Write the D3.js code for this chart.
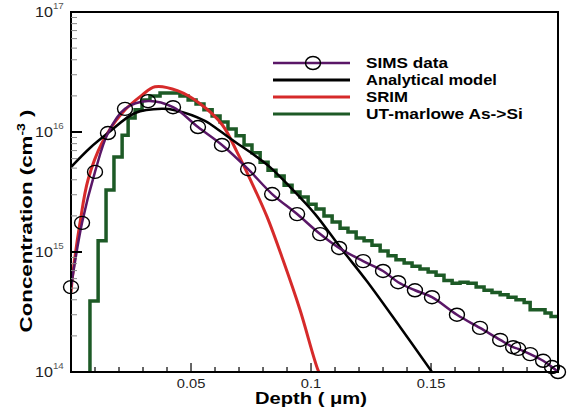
<!DOCTYPE html>
<html>
<head>
<meta charset="utf-8">
<script src="https://cdn.jsdelivr.net/npm/d3@7"></script>
<style>
  body { margin: 0; background: #fff; }
  text { font-family: "Liberation Sans", Arial, sans-serif; }
</style>
</head>
<body>
<div id="chart"></div>
<script>
// SIMS data (depth in um, concentration in cm^-3)
const simsDepth = [0, 0.0046, 0.0100, 0.0154, 0.0225, 0.0321, 0.0425, 0.0529, 0.0629, 0.0738,
  0.0838, 0.0942, 0.1038, 0.1117, 0.1217, 0.1300, 0.1363, 0.1433, 0.1504, 0.1608,
  0.1704, 0.1788, 0.1842, 0.1863, 0.1913, 0.1967, 0.2004, 0.2029]
const simsConc = [5.1e14, 1.75e15, 4.65e15, 9.8e15, 1.56e16, 1.81e16, 1.61e16, 1.10e16, 7.8e15, 4.9e15,
  3.04e15, 2.07e15, 1.41e15, 1.08e15, 8.4e14, 6.95e14, 5.6e14, 4.8e14, 4.2e14, 3.0e14,
  2.33e14, 1.85e14, 1.61e14, 1.56e14, 1.41e14, 1.24e14, 1.10e14, 1.0e14]

// Analytical model
const modelDepth = [0, 0.0079, 0.0154, 0.0267, 0.0379, 0.0433, 0.0558, 0.0621, 0.0683, 0.0746,
  0.0829, 0.0913, 0.1017, 0.1121, 0.1233, 0.1371, 0.1504, 0.1530]
const modelConc = [5.1e15, 7.36e15, 9.8e15, 1.44e16, 1.56e16, 1.52e16, 1.24e16, 1.02e16, 8.3e15, 6.8e15,
  5.1e15, 3.48e15, 2.07e15, 1.10e15, 5.7e14, 2.37e14, 1.0e14, 8.5e13]

// SRIM
const srimDepth = [0, 0.0008, 0.00375, 0.0071, 0.0129, 0.0213, 0.0296, 0.0350, 0.0446, 0.0538,
  0.0630, 0.0692, 0.0750, 0.0817, 0.0883, 0.0954, 0.1029, 0.1045]
const srimConc = [4.6e14, 6.7e14, 1.75e15, 4.0e15, 8.1e15, 1.44e16, 2.03e16, 2.38e16, 2.2e16, 1.72e16,
  1.15e16, 6.8e15, 3.9e15, 1.96e15, 8.6e14, 3.3e14, 1.04e14, 9e13]

// UT-marlowe As->Si (histogram, bin start depths)
const marloweDepth = [0.0079, 0.0079, 0.0113, 0.0146, 0.0179, 0.0213, 0.0238, 0.0267, 0.0296, 0.0329,
  0.0371, 0.0413, 0.0454, 0.0488, 0.0521, 0.0554, 0.0588, 0.0621, 0.0654, 0.0688,
  0.0721, 0.0754, 0.0788, 0.0821, 0.0854, 0.0888, 0.0921, 0.0954, 0.0988, 0.1021,
  0.1054, 0.1088, 0.1121, 0.1154, 0.1188, 0.1221, 0.1254, 0.1288, 0.1321, 0.1354,
  0.1388, 0.1421, 0.1454, 0.1488, 0.1521, 0.1554, 0.1588, 0.1621, 0.1654, 0.1688,
  0.1721, 0.1754, 0.1788, 0.1821, 0.1854, 0.1888, 0.1913, 0.1946, 0.1975, 0.2000, 0.2029]
const marloweConc = [1e14, 3.9e14, 1.24e15, 3.29e15, 6.19e15, 9.4e15, 1.31e16, 1.53e16, 1.85e16, 2.0e16,
  2.11e16, 2.11e16, 2.0e16, 1.85e16, 1.71e16, 1.53e16, 1.36e16, 1.21e16, 1.06e16, 9.3e15,
  7.8e15, 6.7e15, 5.6e15, 4.8e15, 4.3e15, 3.6e15, 3.16e15, 2.87e15, 2.5e15, 2.28e15,
  2.0e15, 1.78e15, 1.58e15, 1.47e15, 1.31e15, 1.24e15, 1.14e15, 1.02e15, 9.3e14, 8.6e14,
  8.1e14, 7.6e14, 7.2e14, 6.8e14, 6.4e14, 5.8e14, 5.5e14, 5.6e14, 5.5e14, 5.1e14,
  4.8e14, 4.6e14, 4.4e14, 4.2e14, 4.0e14, 3.8e14, 3.3e14, 3.3e14, 3.1e14, 2.9e14, 2.9e14]

const xMajor = [0.05, 0.1, 0.15]
const xMinor = d3.range(1, 21).map((i) => i / 100)
const yMajor = [1e14, 1e15, 1e16, 1e17]
const yExp = ["14", "15", "16", "17"]

const legendNames = ["SIMS data", "Analytical model", "SRIM", "UT-marlowe As->Si"]
const colors = { sims: "#5a1767", model: "#000", srim: "#d62a2a", marlowe: "#1d5a26" }

const width = 568
const height = 411
const plot = { left: 71, right: 558, top: 12, bottom: 372 }

const svg = d3.select("#chart").append("svg")
  .attr("width", width)
  .attr("height", height)

const x = d3.scaleLinear().domain([0, 0.2029]).range([plot.left, plot.right])
const y = d3.scaleLog().domain([1e14, 1e17]).range([plot.bottom, plot.top])

// stretch a text along its length so that it spans `target` pixels
function fitText(sel, target) {
  const w = sel.node().getComputedTextLength()
  sel.attr("transform", `scale(${target / w},1)`)
}

svg.append("clipPath").attr("id", "clip")
  .append("rect")
  .attr("x", plot.left).attr("y", plot.top)
  .attr("width", plot.right - plot.left).attr("height", plot.bottom - plot.top)

const zip = (xs, ys) => xs.map((d, i) => [d, ys[i]])

const smooth = d3.line().x((d) => x(d[0])).y((d) => y(d[1])).curve(d3.curveCatmullRom.alpha(0.5))
const steps = d3.line().x((d) => x(d[0])).y((d) => y(d[1])).curve(d3.curveStepAfter)

const lines = svg.append("g").attr("clip-path", "url(#clip)")

lines.append("path")
  .attr("d", steps(zip(marloweDepth, marloweConc)))
  .attr("fill", "none").attr("stroke", colors.marlowe).attr("stroke-width", 3.5)

lines.append("path")
  .attr("d", smooth(zip(srimDepth, srimConc)))
  .attr("fill", "none").attr("stroke", colors.srim).attr("stroke-width", 3)

lines.append("path")
  .attr("d", smooth(zip(modelDepth, modelConc)))
  .attr("fill", "none").attr("stroke", colors.model).attr("stroke-width", 2.5)

lines.append("path")
  .attr("d", smooth(zip(simsDepth, simsConc)))
  .attr("fill", "none").attr("stroke", colors.sims).attr("stroke-width", 2.5)

svg.append("g").selectAll("ellipse")
  .data(zip(simsDepth, simsConc))
  .join("ellipse")
  .attr("cx", (d) => x(d[0])).attr("cy", (d) => y(d[1]))
  .attr("rx", 7.5).attr("ry", 6.5)
  .attr("fill", "none").attr("stroke", "#000").attr("stroke-width", 1.4)

// Frame
svg.append("rect")
  .attr("x", plot.left).attr("y", plot.top)
  .attr("width", plot.right - plot.left).attr("height", plot.bottom - plot.top)
  .attr("fill", "none").attr("stroke", "#000").attr("stroke-width", 2)

// X ticks (inside)
const xt = svg.append("g")
xt.selectAll("line.minor").data(xMinor).join("line")
  .attr("x1", (d) => x(d)).attr("x2", (d) => x(d))
  .attr("y1", plot.bottom).attr("y2", (d) => plot.bottom - (xMajor.some((m) => Math.abs(m - d) < 1e-9) ? 9 : 5))
  .attr("stroke", "#000").attr("stroke-width", 1.2)
xt.selectAll("g").data(xMajor).join("g")
  .attr("transform", (d) => `translate(${x(d)},388)`)
  .append("text")
  .attr("text-anchor", "middle").attr("font-size", 13).attr("fill", "#222")
  .attr("transform", "scale(1.13,1)")
  .text((d) => d)

// Y ticks (inside)
const yt = svg.append("g")
const yMinor = []
yMajor.slice(0, 3).forEach((m) => d3.range(2, 10).forEach((k) => yMinor.push(m * k)))
yt.selectAll("line.minor").data(yMinor).join("line")
  .attr("x1", plot.left).attr("x2", plot.left + 6)
  .attr("y1", (d) => y(d)).attr("y2", (d) => y(d))
  .attr("stroke", "#888").attr("stroke-width", 1)
yt.selectAll("line.major").data(yMajor.slice(1, 3)).join("line")
  .attr("x1", plot.left).attr("x2", plot.left + 11)
  .attr("y1", (d) => y(d)).attr("y2", (d) => y(d))
  .attr("stroke", "#000").attr("stroke-width", 2)
const yl = yt.selectAll("g").data(yMajor).join("g")
  .attr("transform", (d) => `translate(35,${y(d) + 5})`)
  .append("text")
  .attr("font-size", 14).attr("fill", "#222")
  .attr("transform", "scale(1.15,1)")
yl.append("tspan").text("10")
yl.append("tspan").attr("dy", -8).attr("font-size", 8.5).attr("fill", "#555").text((d, i) => yExp[i])

// Axis titles
const xTitle = svg.append("g").attr("transform", "translate(311,404)")
  .append("text")
  .attr("text-anchor", "middle").attr("font-size", 16).attr("font-weight", "bold")
  .text("Depth ( \u03bcm)")
fitText(xTitle, 112)

const yTitle = svg.append("g").attr("transform", "translate(32,221) rotate(-90)")
  .append("text")
  .attr("text-anchor", "middle").attr("font-size", 16).attr("font-weight", "bold")
yTitle.append("tspan").text("Concentration (cm")
yTitle.append("tspan").attr("dy", -7).attr("font-size", 10).text("-3")
yTitle.append("tspan").attr("dy", 7).text(" )")
fitText(yTitle, 223)

// Legend
const legendColors = [colors.sims, colors.model, colors.srim, colors.marlowe]
const legendWidths = [82, 131, 42, 157]
const lg = svg.append("g")
legendNames.forEach((name, i) => {
  const ly = 63 + i * 17
  lg.append("line")
    .attr("x1", 273).attr("x2", 350).attr("y1", ly).attr("y2", ly)
    .attr("stroke", legendColors[i]).attr("stroke-width", i === 0 ? 2.5 : 3)
  if (i === 0) {
    lg.append("ellipse").attr("cx", 313).attr("cy", ly).attr("rx", 7.5).attr("ry", 6.5)
      .attr("fill", "none").attr("stroke", "#000").attr("stroke-width", 1.4)
  }
  const t = lg.append("g").attr("transform", `translate(366,${ly + 5})`)
    .append("text")
    .attr("font-size", 14.5).attr("font-weight", "bold")
    .text(name)
  fitText(t, legendWidths[i])
})
</script>
</body>
</html>
